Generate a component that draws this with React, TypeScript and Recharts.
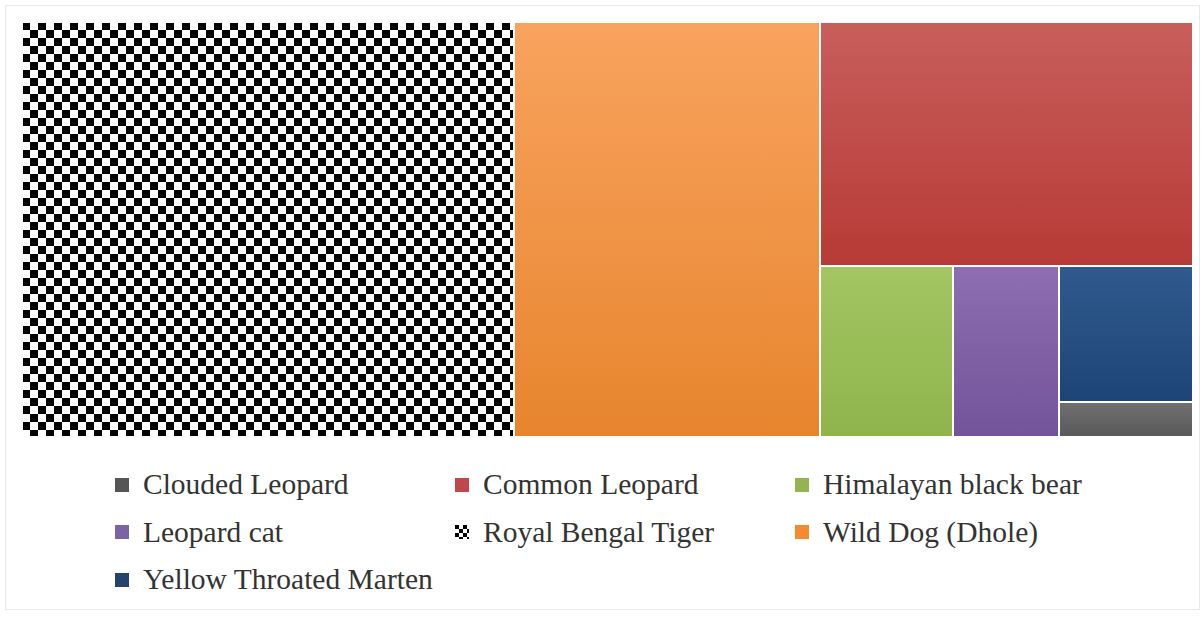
import React from 'react';
import { Treemap } from 'recharts';

// Data (sightings / counts per species)
const speciesNames = [
  'Royal Bengal Tiger',
  'Wild Dog (Dhole)',
  'Common Leopard',
  'Himalayan black bear',
  'Leopard cat',
  'Yellow Throated Marten',
  'Clouded Leopard',
];
const speciesValues = [45, 28, 20, 5, 4, 4, 1];
const legendNames = [
  'Clouded Leopard',
  'Common Leopard',
  'Himalayan black bear',
  'Leopard cat',
  'Royal Bengal Tiger',
  'Wild Dog (Dhole)',
  'Yellow Throated Marten',
];

// Styles
const gradientStops: Record<string, [string, string]> = {
  'Wild Dog (Dhole)': ['#F8A35E', '#E7852E'],
  'Common Leopard': ['#C85E5B', '#B73A36'],
  'Himalayan black bear': ['#A3C563', '#8FB44C'],
  'Leopard cat': ['#8D6EB2', '#735399'],
  'Yellow Throated Marten': ['#2F5A8E', '#1E4476'],
  'Clouded Leopard': ['#707070', '#595959'],
};
const legendSolid: Record<string, string> = {
  'Wild Dog (Dhole)': '#F58A2E',
  'Common Leopard': '#C0474A',
  'Himalayan black bear': '#94B453',
  'Leopard cat': '#7E62A6',
  'Yellow Throated Marten': '#24446E',
  'Clouded Leopard': '#555555',
};

const gid = (name: string) => 'g_' + name.replace(/[^A-Za-z]/g, '');
const fillFor = (name: string) =>
  name === 'Royal Bengal Tiger' ? 'url(#checker)' : `url(#${gid(name)})`;

const data = speciesNames.map((n, i) => ({ name: n, size: speciesValues[i] }));

const CellContent = (props: any) => {
  const { x, y, width, height, depth, name } = props;
  if (depth !== 1) return <g />;
  return (
    <rect
      x={x}
      y={y}
      width={width}
      height={height}
      fill={fillFor(name)}
      stroke="#ffffff"
      strokeWidth={2}
    />
  );
};

const Defs = () => (
  <svg width={0} height={0} style={{ position: 'absolute', left: 0, top: 0 }}>
    <defs>
      <pattern id="checker" width={16} height={16} patternUnits="userSpaceOnUse">
        <rect width={16} height={16} fill="#ffffff" />
        <rect width={8} height={8} fill="#000000" />
        <rect x={8} y={8} width={8} height={8} fill="#000000" />
      </pattern>
      <pattern id="checkerSmall" width={8} height={8} patternUnits="userSpaceOnUse">
        <rect width={8} height={8} fill="#ffffff" />
        <rect width={4} height={4} fill="#000000" />
        <rect x={4} y={4} width={4} height={4} fill="#000000" />
      </pattern>
      {Object.keys(gradientStops).map((n) => (
        <linearGradient key={n} id={gid(n)} x1="0" y1="0" x2="0" y2="1">
          <stop offset="0%" stopColor={gradientStops[n][0]} />
          <stop offset="100%" stopColor={gradientStops[n][1]} />
        </linearGradient>
      ))}
    </defs>
  </svg>
);

export default function App() {
  return (
    <div
      style={{
        position: 'absolute',
        left: 0,
        top: 0,
        width: 1203,
        height: 618,
        background: '#ffffff',
        overflow: 'hidden',
      }}
    >
      <Defs />
      <div
        style={{
          position: 'absolute',
          left: 5,
          top: 5,
          width: 1195,
          height: 605,
          border: '1px solid #e8e8e8',
          boxSizing: 'border-box',
        }}
      />
      <div style={{ position: 'absolute', left: 22, top: 22 }}>
        <Treemap
          width={1171}
          height={415}
          data={data}
          dataKey="size"
          nameKey="name"
          aspectRatio={1}
          isAnimationActive={false}
          content={<CellContent />}
        />
      </div>
      <div
        style={{
          position: 'absolute',
          left: 115,
          top: 461,
          display: 'grid',
          gridTemplateColumns: '340px 340px 340px',
          gridAutoRows: '47.5px',
          fontFamily: '"Liberation Serif", "Times New Roman", serif',
          fontSize: 29.5,
          color: '#333333',
        }}
      >
        {legendNames.map((n) => (
          <div key={n} style={{ display: 'flex', alignItems: 'center', whiteSpace: 'nowrap' }}>
            <svg width={14} height={14} style={{ flex: '0 0 auto' }}>
              <rect
                width={14}
                height={14}
                fill={n === 'Royal Bengal Tiger' ? 'url(#checkerSmall)' : legendSolid[n]}
              />
            </svg>
            <span style={{ marginLeft: 14 }}>{n}</span>
          </div>
        ))}
      </div>
    </div>
  );
}
